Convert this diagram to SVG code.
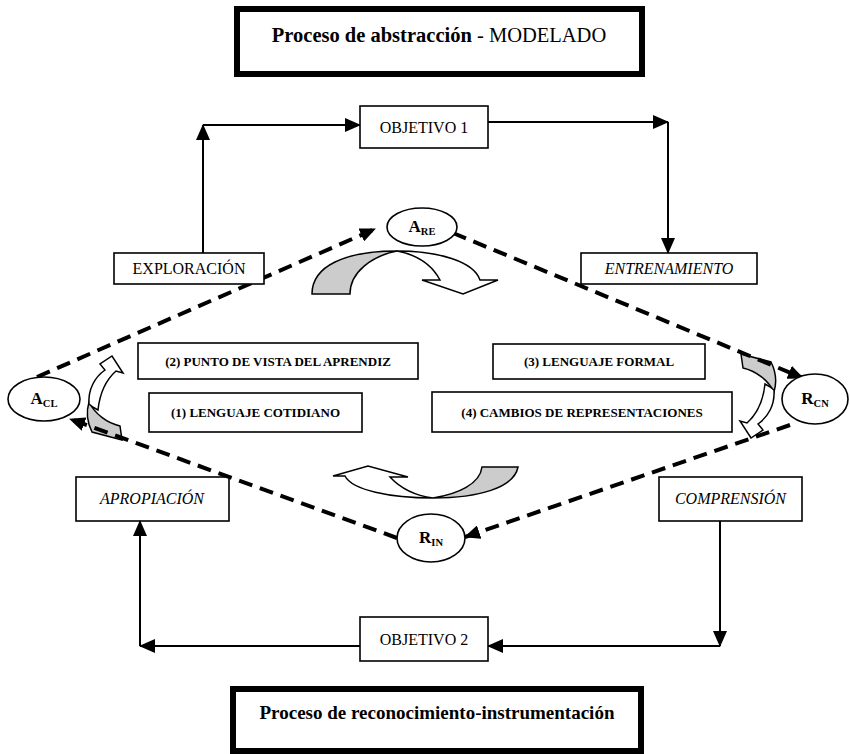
<svg xmlns="http://www.w3.org/2000/svg" width="850" height="754" viewBox="0 0 850 754">
  <defs>
    <style>
      text { font-family: "Liberation Serif", "Times New Roman", serif; fill: #000; }
      .box { fill: #fff; stroke: #000; stroke-width: 1.6; }
      .title { fill: #fff; stroke: #000; stroke-width: 6; }
      .lbl { font-size: 16px; text-anchor: middle; }
      .it { font-style: italic; }
      .step { font-size: 13px; font-weight: bold; text-anchor: middle; }
      .node { fill: #fff; stroke: #000; stroke-width: 1.6; }
      .nl { font-size: 17px; font-weight: bold; text-anchor: middle; }
      .sub { font-size: 10.5px; }
      .solid { fill: none; stroke: #000; stroke-width: 2; }
      .dash { fill: none; stroke: #000; stroke-width: 4; stroke-dasharray: 14 8; }
      .bend-w { fill: #fff; stroke: #000; stroke-width: 1.5; stroke-linejoin: miter; }
      .bend-g { fill: #cccccc; stroke: #000; stroke-width: 1.5; }
    </style>
    <marker id="head" markerUnits="userSpaceOnUse" markerWidth="16" markerHeight="14" refX="15" refY="7" orient="auto">
      <path d="M0,0 L16,7 L0,14 z" fill="#000"/>
    </marker>
    <marker id="dhead" markerUnits="userSpaceOnUse" markerWidth="16" markerHeight="14" refX="15" refY="7" orient="auto">
      <path d="M0,0 L16,7 L0,14 z" fill="#000"/>
    </marker>
    <!-- curved arrow with shaded underside; head points down-left -->
    <g id="bend-side">
      <path class="bend-g" d="M741,354 L771,362 C776,372 777,382 774,392 C768,380 756,371 743,368 Z"/>
      <path class="bend-w" d="M774,390 C775,405 768,417 758,424 L763,430 L751,438 L740,421 L747,423 C756,415 763,403 765,384 C769,386 772,388 774,390 Z"/>
    </g>
  </defs>

  <!-- curved process arrows -->
  <g id="bend-top">
    <path class="bend-g" d="M312,294 C312,266 345,251 397,251 C372,256 350,272 350,294 Z"/>
    <path class="bend-w" d="M397,251 C440,251 474,262 480,280 L498,280 L463,294 L422,280 L440,280 C432,265 418,255 397,251 Z"/>
  </g>
  <g id="bend-bottom">
    <path class="bend-g" d="M482,467 L518,467 C514,488 478,498 433,498 C458,494 480,484 482,467 Z"/>
    <path class="bend-w" d="M433,498 C390,498 352,490 345,476 L333,476 L368,466 L408,477 L390,477 C402,490 418,496 433,498 Z"/>
  </g>
  <g id="bend-right">
    <use href="#bend-side"/>
  </g>
  <g id="bend-left">
    <use href="#bend-side" transform="translate(105,398) rotate(180) translate(-758,-396)"/>
  </g>

  <!-- lower side boxes (crossed by the dashed cycle) -->
  <g id="apropiacion">
    <rect class="box" x="76" y="477" width="153" height="44"/>
    <text class="lbl it" x="152" y="504">APROPIACIÓN</text>
  </g>
  <g id="comprension">
    <rect class="box" x="659" y="477" width="143" height="44"/>
    <text class="lbl it" x="730.5" y="504">COMPRENSIÓN</text>
  </g>

  <!-- connectors -->
  <g id="connectors">
    <line class="solid" x1="203" y1="253" x2="203" y2="125" marker-end="url(#head)"/>
    <line class="solid" x1="203" y1="125" x2="360" y2="125" marker-end="url(#head)"/>
    <line class="solid" x1="483" y1="122" x2="668" y2="122" marker-end="url(#head)"/>
    <line class="solid" x1="668" y1="122" x2="668" y2="253" marker-end="url(#head)"/>
    <line class="solid" x1="720" y1="521" x2="720" y2="646" marker-end="url(#head)"/>
    <line class="solid" x1="720" y1="646" x2="488" y2="646" marker-end="url(#head)"/>
    <line class="solid" x1="360" y1="646" x2="140" y2="646" marker-end="url(#head)"/>
    <line class="solid" x1="140" y1="646" x2="140" y2="521" marker-end="url(#head)"/>

    <line class="dash" x1="37" y1="377" x2="375" y2="229" marker-end="url(#dhead)"/>
    <line class="dash" x1="453" y1="233" x2="803" y2="378" marker-end="url(#dhead)"/>
    <line class="dash" x1="790" y1="425" x2="465" y2="537" marker-end="url(#dhead)"/>
    <line class="dash" x1="397" y1="538" x2="70" y2="419" marker-end="url(#dhead)"/>
  </g>

  <!-- titles -->
  <g id="title-abstraccion">
    <rect class="title" x="237" y="9" width="405" height="65"/>
    <text x="439" y="42" font-size="20.5" text-anchor="middle"><tspan font-weight="bold">Proceso de abstracción</tspan> - MODELADO</text>
  </g>
  <g id="title-reconocimiento">
    <rect class="title" x="233" y="689" width="408" height="62"/>
    <text x="437" y="719" font-size="19" font-weight="bold" text-anchor="middle">Proceso de reconocimiento-instrumentación</text>
  </g>

  <!-- goals -->
  <g id="objetivo1">
    <rect class="box" x="360" y="106" width="128" height="42"/>
    <text class="lbl" x="424" y="133">OBJETIVO 1</text>
  </g>
  <g id="objetivo2">
    <rect class="box" x="360" y="617" width="128" height="44"/>
    <text class="lbl" x="424" y="645">OBJETIVO 2</text>
  </g>

  <!-- upper side boxes -->
  <g id="exploracion">
    <rect class="box" x="114" y="253" width="150" height="31"/>
    <text class="lbl" x="189" y="274">EXPLORACIÓN</text>
  </g>
  <g id="entrenamiento">
    <rect class="box" x="581" y="253" width="176" height="31"/>
    <text class="lbl it" x="669" y="274">ENTRENAMIENTO</text>
  </g>

  <!-- numbered stages -->
  <g id="paso2">
    <rect class="box" x="138" y="343" width="280" height="36"/>
    <text class="step" x="278" y="366">(2) PUNTO DE VISTA DEL APRENDIZ</text>
  </g>
  <g id="paso1">
    <rect class="box" x="149" y="393" width="213" height="39"/>
    <text class="step" x="255.5" y="417">(1) LENGUAJE COTIDIANO</text>
  </g>
  <g id="paso3">
    <rect class="box" x="493" y="344" width="212" height="35"/>
    <text class="step" x="599" y="366">(3) LENGUAJE FORMAL</text>
  </g>
  <g id="paso4">
    <rect class="box" x="432" y="392" width="300" height="40"/>
    <text class="step" x="582" y="417">(4) CAMBIOS DE REPRESENTACIONES</text>
  </g>

  <!-- cycle nodes -->
  <g id="a-re">
    <ellipse class="node" cx="422" cy="227" rx="35" ry="19"/>
    <text class="nl" x="422" y="232">A<tspan class="sub" dy="3">RE</tspan></text>
  </g>
  <g id="a-cl">
    <ellipse class="node" cx="44" cy="399" rx="36" ry="22"/>
    <text class="nl" x="44" y="404">A<tspan class="sub" dy="3">CL</tspan></text>
  </g>
  <g id="r-cn">
    <ellipse class="node" cx="815" cy="399" rx="33" ry="25"/>
    <text class="nl" x="815" y="404">R<tspan class="sub" dy="3">CN</tspan></text>
  </g>
  <g id="r-in">
    <ellipse class="node" cx="431" cy="538" rx="34" ry="24"/>
    <text class="nl" x="431" y="543">R<tspan class="sub" dy="3">IN</tspan></text>
  </g>
</svg>
